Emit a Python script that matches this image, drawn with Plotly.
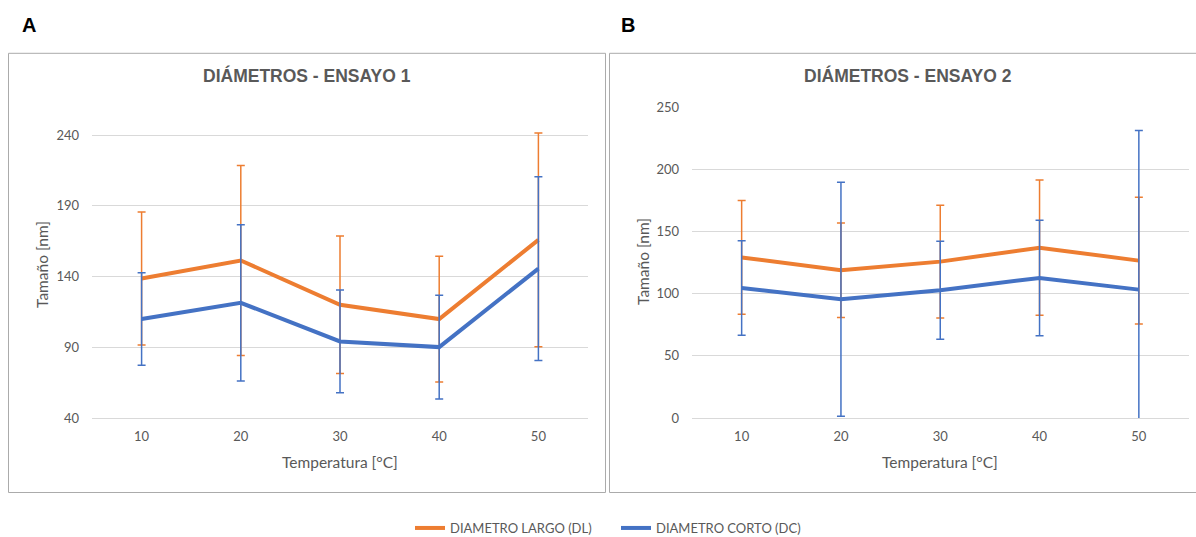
import plotly.graph_objects as go

W, H = 1196, 537

temperatures = [10, 20, 30, 40, 50]
tick_labels = ["10", "20", "30", "40", "50"]

# Ensayo 1 (panel A)
dl_e1 = [138.6, 151.3, 120.0, 109.9, 165.9]
dl_e1_err = [47.0, 67.2, 48.6, 44.5, 75.5]
dc_e1 = [109.9, 121.4, 94.1, 90.1, 145.6]
dc_e1_err = [32.7, 55.2, 36.3, 36.7, 64.9]

# Ensayo 2 (panel B)
dl_e2 = [129.1, 118.7, 125.7, 136.9, 126.5]
dl_e2_err = [45.7, 38.0, 45.3, 54.4, 51.0]
dc_e2 = [104.5, 95.5, 102.7, 112.6, 103.2]
dc_e2_err = [38.0, 94.0, 39.3, 46.4, 128.0]

ORANGE = "#ED7D31"
BLUE = "#4472C4"
GRAY_TXT = "#595959"
GRID = "#D9D9D9"
FONT = "Lato"


def px(x):
    return x / W


def py(y):
    return 1 - y / H


fig = go.Figure()


def add_series(y, err, color, name, xa, ya, show):
    fig.add_trace(go.Scatter(
        x=temperatures, y=y, mode="lines", name=name,
        line=dict(color=color, width=4),
        error_y=dict(type="data", array=err, visible=True, color=color,
                     thickness=1.5, width=4),
        xaxis=xa, yaxis=ya, showlegend=show,
    ))


add_series(dl_e1, dl_e1_err, ORANGE, "DIAMETRO LARGO (DL)", "x", "y", True)
add_series(dc_e1, dc_e1_err, BLUE, "DIAMETRO CORTO (DC)", "x", "y", True)
add_series(dl_e2, dl_e2_err, ORANGE, "DIAMETRO LARGO (DL)", "x2", "y2", False)
add_series(dc_e2, dc_e2_err, BLUE, "DIAMETRO CORTO (DC)", "x2", "y2", False)

xcommon = dict(range=[5, 55], tickvals=temperatures, ticktext=tick_labels,
               showgrid=False, zeroline=False, showline=True, linecolor=GRID,
               linewidth=1, ticks="", tickfont=dict(family=FONT, size=13, color=GRAY_TXT),
               ticklabelstandoff=6, fixedrange=True)
ycommon = dict(showgrid=True, gridcolor=GRID, gridwidth=1, zeroline=False,
               showline=False, ticks="", tickfont=dict(family=FONT, size=13, color=GRAY_TXT),
               ticklabelstandoff=12, fixedrange=True)

fig.update_layout(
    width=W, height=H,
    margin=dict(l=0, r=0, t=0, b=0, autoexpand=False),
    paper_bgcolor="white", plot_bgcolor="white",
    xaxis=dict(domain=[px(92), px(588)], anchor="y", **xcommon),
    yaxis=dict(domain=[py(418), py(130.76)], range=[40, 243], tickvals=[40, 90, 140, 190, 240],
               anchor="x", **ycommon),
    xaxis2=dict(domain=[px(692), px(1188.5)], anchor="y2", **xcommon),
    yaxis2=dict(domain=[py(418), py(106.38)], range=[0, 250.5], tickvals=[0, 50, 100, 150, 200, 250],
                anchor="x2", **ycommon),
    legend=dict(orientation="h", x=px(410), xanchor="left", y=py(528), yanchor="middle",
                font=dict(family=FONT, size=13, color=GRAY_TXT),
                bgcolor="rgba(0,0,0,0)", itemwidth=30, traceorder="normal",
                entrywidth=161, entrywidthmode="pixels"),
    showlegend=True,
)

shapes = []
for x0, x1 in [(8.5, 605.5), (609.5, 1205)]:
    shapes.append(dict(type="rect", xref="paper", yref="paper",
                       x0=px(x0), x1=px(x1), y0=py(492.5), y1=py(53.3),
                       line=dict(color="#ABABAB", width=1), fillcolor="rgba(0,0,0,0)", layer="below"))
fig.update_layout(shapes=shapes)


def note(text, x, y, size, family=FONT, color=GRAY_TXT, angle=0):
    return dict(text=text, x=px(x), y=py(y), xref="paper", yref="paper",
                xanchor="center", yanchor="middle", textangle=angle,
                showarrow=False, font=dict(family=family, size=size, color=color))


ann = [
    note("<b>A</b>", 29, 25, 20, "Liberation Sans", "black"),
    note("<b>B</b>", 628, 25, 20, "Liberation Sans", "black"),
    note("<b>DIÁMETROS - ENSAYO 1</b>", 306.5, 75, 17.5, "Liberation Sans"),
    note("<b>DIÁMETROS - ENSAYO 2</b>", 907.5, 75, 17.5, "Liberation Sans"),
    note("Temperatura [°C]", 340, 462, 15.5),
    note("Temperatura [°C]", 940.5, 462, 15.5),
    note("Tamaño [nm]", 42, 265, 15.5, angle=-90),
    note("Tamaño [nm]", 643, 262, 15.5, angle=-90),
]
fig.update_layout(annotations=ann)

fig.write_html("out.html")
